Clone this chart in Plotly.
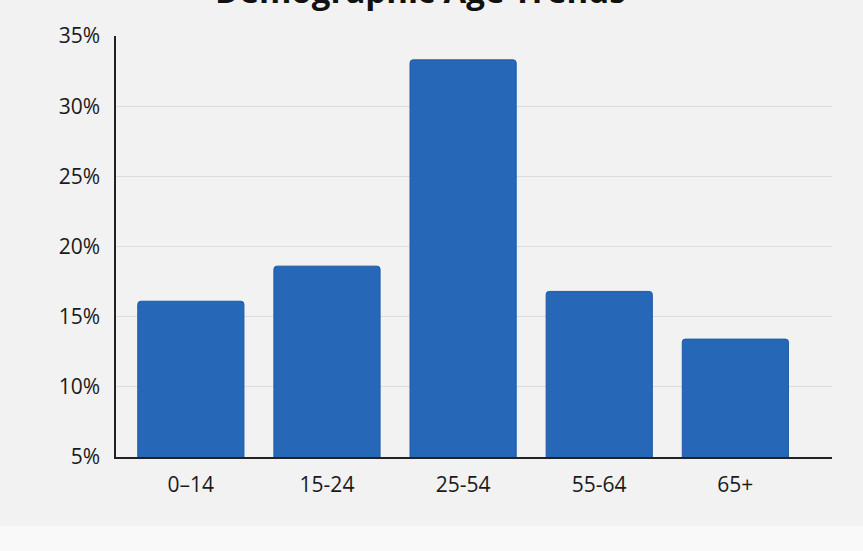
import plotly.graph_objects as go

# ── Data ─────────────────────────────────────────────────────────────────────
age_groups = ["0–14", "15-24", "25-54", "55-64", "65+"]
share_pct = [16.1, 18.6, 33.3, 16.8, 13.4]
y_ticks = [5, 10, 15, 20, 25, 30, 35]
y_tick_labels = [f"{v}%" for v in y_ticks]

BG = "#f2f2f2"
BAR = "#2767b8"
INK = "#1a1a1a"
FONT = "Open Sans"

fig = go.Figure()

fig.add_trace(go.Bar(
    x=age_groups, y=share_pct,
    base=0,
    width=0.78,
    marker=dict(color=BAR, line=dict(color="#1f5aa6", width=1), cornerradius=3),
    hovertemplate="%{x}: %{y}%<extra></extra>",
    showlegend=False,
))

# lighter strip along the bottom edge of the picture
fig.add_shape(
    type="rect", xref="paper", yref="paper",
    x0=-0.2, x1=1.1, y0=-0.164, y1=-0.24,
    fillcolor="#f9f9f9", line=dict(width=0), layer="below",
)

# title sits mostly above the page edge, as in the source picture
fig.add_annotation(
    text="<b>Demographic Age Trends</b>",
    xref="paper", yref="paper", x=0.425, y=1.05,
    xanchor="center", yanchor="bottom",
    showarrow=False,
    font=dict(family=FONT, size=33, color="#111111"),
)

fig.update_layout(
    width=863, height=551,
    margin=dict(l=116, r=31, t=36, b=94),
    paper_bgcolor=BG, plot_bgcolor=BG,
    font=dict(family=FONT, size=21, color=INK),
    xaxis=dict(
        type="category",
        range=[-0.55, 4.71],
        showline=True, linecolor="#222222", linewidth=1.5,
        showgrid=False, ticks="",
        ticklabelstandoff=8,
        tickfont=dict(family=FONT, size=21, color=INK),
    ),
    yaxis=dict(
        range=[5, 35],
        tickmode="array", tickvals=y_ticks, ticktext=y_tick_labels,
        showline=True, linecolor="#222222", linewidth=1.5,
        showgrid=True, gridcolor="#dcdcdc", gridwidth=1,
        zeroline=False, ticks="",
        ticklabelstandoff=10,
        tickfont=dict(family=FONT, size=21, color=INK),
    ),
    bargap=0.2,
)

fig.write_html(
    "out.html",
    config={"displayModeBar": False},
    post_script="document.body.style.margin='0';",
)
